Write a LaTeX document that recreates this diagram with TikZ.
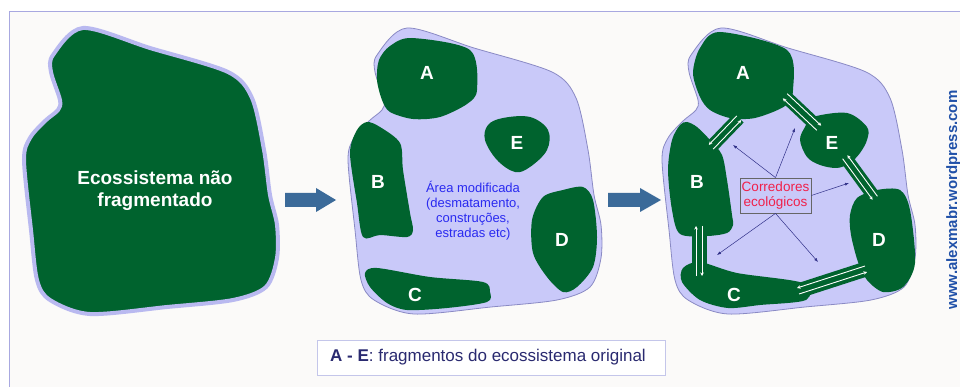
\documentclass[tikz,border=0pt]{standalone}
\usepackage{fontspec}
\setmainfont{Liberation Sans}
\usetikzlibrary{arrows.meta}
\definecolor{fgreen}{HTML}{00632E}
\definecolor{lav}{HTML}{C9C9F9}
\definecolor{lavband}{HTML}{B9B9F0}
\definecolor{lavedge}{HTML}{8A8AC4}
\definecolor{framec}{HTML}{A8A8E0}
\definecolor{bgc}{HTML}{FBFAF9}
\definecolor{barrow}{HTML}{3B6A99}
\definecolor{areablue}{HTML}{2A2AF0}
\definecolor{navy}{HTML}{303088}
\definecolor{legtext}{HTML}{2A2A70}
\definecolor{legframe}{HTML}{C4C6EA}
\definecolor{corred}{HTML}{F0204A}
\definecolor{wmark}{HTML}{2050A8}
\tikzset{
  outer/.pic={\path[pic actions] plot[smooth cycle, tension=0.5] coordinates {
    (83,28) (150,48) (228,72) (252,98) (264,150) (270,195) (277,225) (277,258)
    (266,287) (233,300) (167,307) (90,314) (50,300) (37,280) (31,230) (24,160)
    (30,138) (45,121) (58,110) (60,100) (51,72) (53,55)};},
  frag/.style={fill=fgreen},
  fraglabel/.style={text=white, font=\fontsize{19}{22}\selectfont\bfseries},
  blockarrow/.style={fill=barrow},
  corridor/.style={draw=fgreen, line width=13},
  warrow/.style={draw=white, line width=0.9, -{Stealth[length=3.5pt,width=3.5pt]}},
  navyarrow/.style={draw=navy, line width=0.5, -{Latex[length=4pt,width=3pt]}},
}
\begin{document}
\begin{tikzpicture}[x=1pt,y=-1pt]
\useasboundingbox (0,0) rectangle (960,387);
\clip (0,0) rectangle (960,387);
\fill[white] (0,0) rectangle (960,387);
\draw[draw=framec, fill=bgc, line width=1.5] (9.5,11.5) rectangle (975,400);

% ---------- panel 1 ----------
\pic[fill=fgreen, draw=lavband, line width=4, preaction={draw=lavedge, line width=5}] at (0,0) {outer};
\node[fraglabel, align=center] (eco) at (155,191) {Ecossistema não\\fragmentado};

% block arrows
\fill[blockarrow] (285,193) -- (316,193) -- (316,188) -- (336,200) -- (316,212) -- (316,207) -- (285,207) -- cycle;
\fill[blockarrow] (608,193) -- (640,193) -- (640,188) -- (661,200) -- (640,212) -- (640,207) -- (608,207) -- cycle;

% ---------- panel 2 ----------
\pic[fill=lav, draw=lavedge, line width=0.8] at (324,0) {outer};
\fill[frag] plot[smooth cycle, tension=0.5] coordinates {(390,46) (412,38) (470,50) (477,90) (467,104) (440,117) (413,119) (390,112) (382,100) (377,80) (379,60)};
\fill[frag] plot[smooth cycle, tension=0.5] coordinates {(367,122) (380,127) (400,143) (403,170) (410,213) (413,230) (407,237) (380,235) (363,237) (357,203) (350,153) (357,130)};
\fill[frag] plot[smooth cycle, tension=0.6] coordinates {(503,118) (530,117) (548,130) (547,150) (530,167) (515,172) (497,160) (485,140) (488,125)};
\fill[frag] plot[smooth cycle, tension=0.5] coordinates {(543,197) (563,190) (583,187) (593,200) (597,237) (593,267) (577,287) (563,292) (547,277) (533,253) (532,220)};
\fill[frag] plot[smooth cycle, tension=0.5] coordinates {(365,273) (377,268) (430,277) (483,282) (490,292) (487,302) (447,308) (407,310) (387,303) (370,287)};
\node[fraglabel] (a2) at (427,73) {A};
\node[fraglabel] (b2) at (378,182) {B};
\node[fraglabel] (e2) at (517,143) {E};
\node[fraglabel] (d2) at (562,240) {D};
\node[fraglabel] (c2) at (415,295) {C};
\node[text=areablue, align=center, font=\fontsize{13}{15}\selectfont] (area) at (473,211) {Área modificada\\(desmatamento,\\construções,\\estradas etc)};

% ---------- panel 3 ----------
\pic[fill=lav, draw=lavedge, line width=0.8] at (638,0) {outer};
% corridors
\coordinate (ab1) at (711,147); \coordinate (ab2) at (739,118);
\coordinate (ae1) at (785,96);  \coordinate (ae2) at (819,128);
\coordinate (ed1) at (845,157); \coordinate (ed2) at (875,198);
\coordinate (bc1) at (699,226); \coordinate (bc2) at (699,276);
\coordinate (cd1) at (798,291); \coordinate (cd2) at (866,269);
\draw[corridor] (ab1) -- (ab2);
\draw[corridor] (ae1) -- (ae2);
\draw[corridor] (ed1) -- (ed2);
\draw[corridor, line width=15] (bc1) -- (bc2);
\draw[corridor, line width=15] (cd1) -- (cd2);
% fragments
\fill[frag] plot[smooth cycle, tension=0.5] coordinates {(700,48) (720,32) (787,50) (793,90) (785,106) (755,118) (730,118) (710,110) (700,97) (693,73)};
\fill[frag] plot[smooth cycle, tension=0.5] coordinates {(687,122) (697,127) (710,140) (722,155) (727,180) (732,215) (733,225) (727,233) (707,236) (680,234) (672,210) (668,170) (672,140) (680,125)};
\fill[frag] plot[smooth cycle, tension=0.55] coordinates {(813,117) (847,113) (867,127) (867,140) (860,153) (850,163) (837,168) (820,165) (807,157) (800,140) (805,127)};
\fill[frag] plot[smooth cycle, tension=0.5] coordinates {(857,198) (877,190) (900,190) (910,210) (915,263) (903,287) (883,292) (867,280) (858,262) (851,235) (850,215)};
\fill[frag] plot[smooth cycle, tension=0.5] coordinates {(683,268) (700,262) (737,273) (803,283) (806,300) (760,305) (728,308) (700,300) (682,282)};
\node[fraglabel] (a3) at (743,73) {A};
\node[fraglabel] (b3) at (697,182) {B};
\node[fraglabel] (e3) at (832,143) {E};
\node[fraglabel] (d3) at (879,240) {D};
\node[fraglabel] (c3) at (734,295) {C};
% white double arrows
\draw[warrow] ([shift={(2.2,2.1)}]ab1) -- ([shift={(2.2,2.1)}]ab2);
\draw[warrow] ([shift={(-2.2,-2.1)}]ab2) -- ([shift={(-2.2,-2.1)}]ab1);
\draw[warrow] ([shift={(2.2,-2.3)}]ae1) -- ([shift={(2.2,-2.3)}]ae2);
\draw[warrow] ([shift={(-2.2,2.3)}]ae2) -- ([shift={(-2.2,2.3)}]ae1);
\draw[warrow] ([shift={(2.4,-1.7)}]ed2) -- ([shift={(2.4,-1.7)}]ed1);
\draw[warrow] ([shift={(-2.4,1.7)}]ed1) -- ([shift={(-2.4,1.7)}]ed2);
\draw[warrow] ([shift={(-3,0)}]bc2) -- ([shift={(-3,0)}]bc1);
\draw[warrow] ([shift={(3,0)}]bc1) -- ([shift={(3,0)}]bc2);
\draw[warrow] ([shift={(-1,-3)}]cd2) -- ([shift={(-1,-3)}]cd1);
\draw[warrow] ([shift={(1,3)}]cd1) -- ([shift={(1,3)}]cd2);
% corridors label box and pointers
\node[draw=black!60, fill=lav, line width=0.8, minimum width=71, minimum height=35, inner sep=1pt,
      text=corred, align=center, font=\fontsize{13.5}{15}\selectfont] (cor) at (775.5,195.5) {Corredores\\ecológicos};
\coordinate (p1) at (733,145);
\coordinate (p2) at (795,128);
\coordinate (p3) at (849,183);
\coordinate (p4) at (717,255);
\coordinate (p5) at (818,262);
\draw[navyarrow] (cor.north) -- (p1);
\draw[navyarrow] (cor.north) -- (p2);
\draw[navyarrow] (cor.east) -- (p3);
\draw[navyarrow] (cor.south) -- (p4);
\draw[navyarrow] (cor.south) -- (p5);

% legend
\node[draw=legframe, fill=white, line width=1, minimum width=348, minimum height=35, inner sep=0pt] (legbox) at (491,357.5) {};
\node[anchor=west, text=legtext, font=\fontsize{17}{20}\selectfont, inner sep=0pt] (leg) at (330,357.5) {\textbf{A - E}: fragmentos do ecossistema original};

% watermark
\node[rotate=90, anchor=base, text=wmark, font=\fontsize{15}{18}\selectfont\bfseries, inner sep=0pt] (wm) at (957,200) {www.alexmabr.wordpress.com};
\end{tikzpicture}
\end{document}
